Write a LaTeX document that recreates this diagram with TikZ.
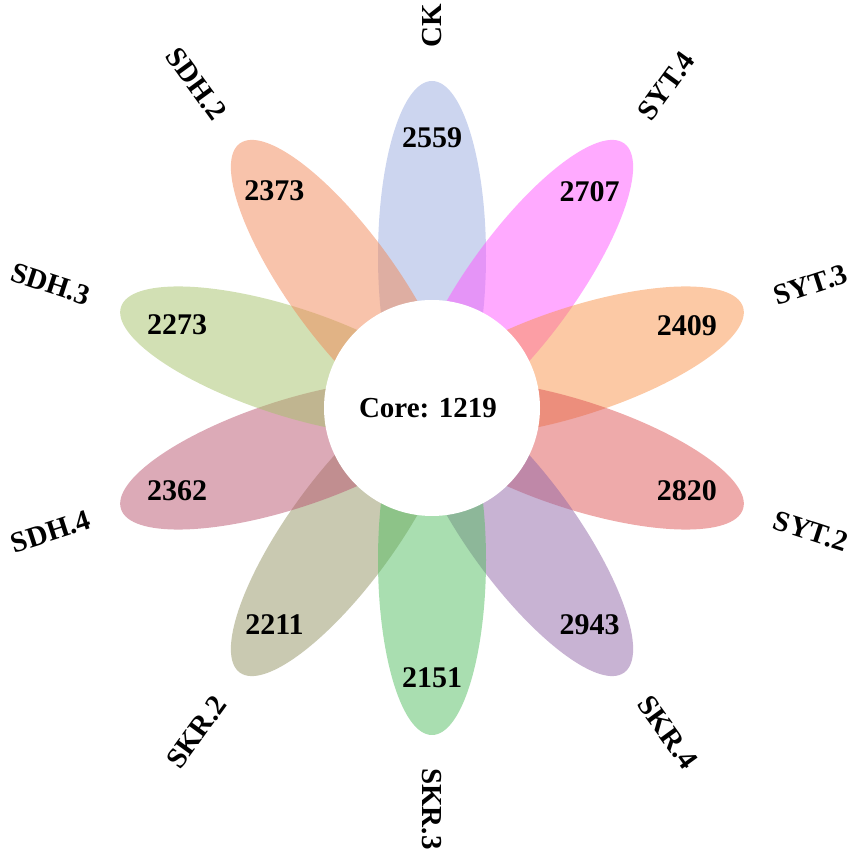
\documentclass[tikz,border=0pt]{standalone}
\usepackage{fontspec}
\setmainfont{Liberation Serif}
\usetikzlibrary{calc}
\definecolor{cCK}{RGB}{153,171,223}
\definecolor{cSYTiv}{RGB}{255,85,255}
\definecolor{cSYTiii}{RGB}{249,147,75}
\definecolor{cSYTii}{RGB}{221,85,85}
\definecolor{cSKRiv}{RGB}{145,103,167}
\definecolor{cSKRiii}{RGB}{83,189,97}
\definecolor{cSKRii}{RGB}{147,147,99}
\definecolor{cSDHiv}{RGB}{185,85,111}
\definecolor{cSDHiii}{RGB}{165,193,105}
\definecolor{cSDHii}{RGB}{241,135,87}
\tikzset{
  petal/.style={fill=#1, fill opacity=0.5, draw=none},
  numtext/.style={font=\fontsize{30}{30}\selectfont\bfseries, inner sep=0pt},
  labtext/.style={font=\fontsize{29}{29}\selectfont\bfseries, inner sep=0pt},
}
\begin{document}
\begin{tikzpicture}[x=1pt,y=1pt]
\useasboundingbox (0,0) rectangle (851,855);
\coordinate (C) at (432,447);
% petals
\foreach \ang/\col in {90/cCK,54/cSYTiv,18/cSYTiii,-18/cSYTii,-54/cSKRiv,-126/cSKRii,-90/cSKRiii,-162/cSDHiv,162/cSDHiii,126/cSDHii}{
  \begin{scope}[shift={(C)}, rotate=\ang]
    \fill[petal=\col] (152,0) ellipse [x radius=175, y radius=54];
  \end{scope}
}
% core
\node[circle, fill=white, minimum size=216pt, inner sep=0pt] (core) at (C) {};
\node[numtext, font=\fontsize{29}{29}\selectfont\bfseries] (coretext) at ($(C)+(-4,0)$) {Core: 1219};
% numbers
\node[numtext] (nCK) at ($(C)+(90:270)$) {2559};
\node[numtext] (nSYTiv) at ($(C)+(54:268)$) {2707};
\node[numtext] (nSYTiii) at ($(C)+(18:268)$) {2409};
\node[numtext] (nSYTii) at ($(C)+(-18:268)$) {2820};
\node[numtext] (nSKRiv) at ($(C)+(-54:268)$) {2943};
\node[numtext] (nSKRiii) at ($(C)+(-90:270)$) {2151};
\node[numtext] (nSKRii) at ($(C)+(-126:268)$) {2211};
\node[numtext] (nSDHiv) at ($(C)+(-162:268)$) {2362};
\node[numtext] (nSDHiii) at ($(C)+(162:268)$) {2273};
\node[numtext] (nSDHii) at ($(C)+(126:268)$) {2373};
% labels
\node[labtext, anchor=west, rotate=90] (lCK) at ($(C)+(90:360)$) {CK};
\node[labtext, anchor=west, rotate=54] (lSYTiv) at ($(C)+(54:360)$) {SYT.4};
\node[labtext, anchor=west, rotate=18] (lSYTiii) at ($(C)+(18:360)$) {SYT.3};
\node[labtext, anchor=west, rotate=-18] (lSYTii) at ($(C)+(-18:360)$) {SYT.2};
\node[labtext, anchor=west, rotate=-54] (lSKRiv) at ($(C)+(-54:360)$) {SKR.4};
\node[labtext, anchor=west, rotate=-90] (lSKRiii) at ($(C)+(-90:360)$) {SKR.3};
\node[labtext, anchor=east, rotate=54] (lSKRii) at ($(C)+(-126:360)$) {SKR.2};
\node[labtext, anchor=east, rotate=18] (lSDHiv) at ($(C)+(-162:360)$) {SDH.4};
\node[labtext, anchor=east, rotate=-18] (lSDHiii) at ($(C)+(162:360)$) {SDH.3};
\node[labtext, anchor=east, rotate=-54] (lSDHii) at ($(C)+(126:360)$) {SDH.2};
\end{tikzpicture}
\end{document}
